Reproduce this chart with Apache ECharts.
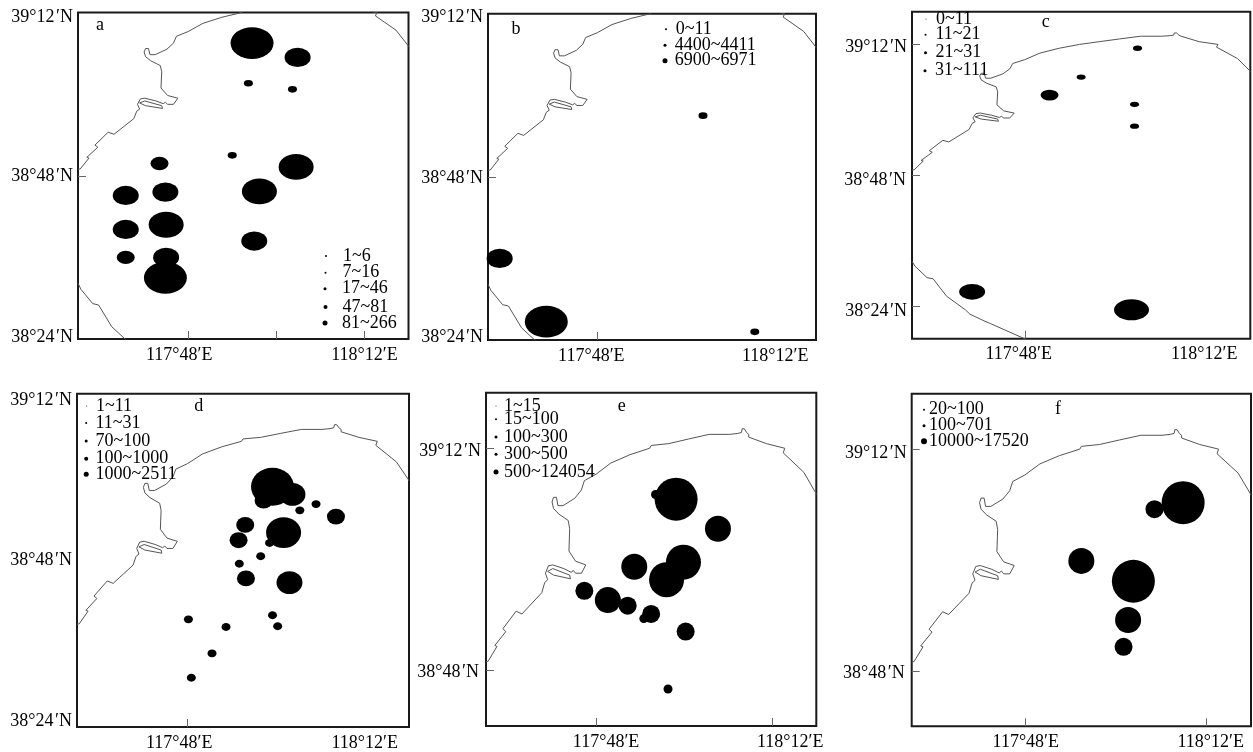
<!DOCTYPE html>
<html><head><meta charset="utf-8">
<style>html,body{margin:0;padding:0;background:#fff}#c{width:1253px;height:752px}</style>
<script src="https://cdn.jsdelivr.net/npm/echarts@6/dist/echarts.min.js"></script>
</head><body><div id="c"></div>
<script>
// Values are minutes east of 117°00' and minutes north of 38°00'.
const lonTicks = [48, 72];
const lonTickLabels = ['117°48′E', '118°12′E'];
const latTicks = [24, 48, 72];
const latTickLabels = ['38°24\u200a′N', '38°48\u200a′N', '39°12\u200a′N'];

const coastMain = [[33,48.95],[33.3,49],[34.5,50.6],[34.2,50.7],[35.7,52.2],[35.3,52.5],[37.1,54.4],[37.9,54.1],[40.6,56.4],[41,57.5],[41.4,57.8],[41.1,58.5],[41.5,59.3],[42.1,59.4],[43.6,59],[43.8,59.2],[44.6,58.6],[44.9,58.8],[45.2,58.5],[46,58.5],[46.6,59.4],[45.2,59.8],[44.3,60.9],[44.4,63.3],[44.2,64.2],[42.9,64.9],[42.2,65.5],[42,66.2],[42.2,66.7],[42.6,66.7],[42.8,65.8],[43.5,65.8],[45.1,66.6],[46,67.5],[46.4,68.5],[48,69.2],[50,70.4],[52.6,71.3],[55.3,72],[55.5,72.3],[57.9,72.5],[60.6,73],[63.4,73.5],[66.2,73.5],[67.3,73.6],[67.5,73.8],[67.8,73.7],[67.9,74.1],[68.2,74.1],[68.5,73.7],[68.8,73.5],[68.8,73.2],[71.2,72.5],[73.7,72],[73.5,71.5],[76.3,69.4],[77.9,67.2],[78,67]];
const coastHarbor = [[41.4,58.7],[42.1,59],[44.4,58.3],[44.5,57.9],[42.2,58.3],[41.4,58.7]];
const coastSouth = [[33,32.2],[33.4,31.3],[35,29.2],[35.8,29],[37.6,25.8],[40.1,23.3],[40.7,22.5],[42.7,21.2],[43.4,20.8],[47.8,18.1],[48,18]];

// Each station: [lon, lat, class index into the panel's class list]
const classesA = ['1~6','7~16','17~46','47~81','81~266'];
const stationsA = [[56.7,67.5,4],[62.9,65.4,2],[56.2,61.6,0],[62.2,60.7,0],[54,51,0],[62.7,49.3,3],[44.1,49.8,1],[57.7,45.7,3],[44.9,45.6,2],[39.5,45.1,2],[45,40.8,3],[39.5,40.1,2],[57,38.4,2],[39.5,36,1],[45,36,2],[44.9,33,4]];
const classesB = ['0~11','4400~4411','6900~6971'];
const stationsB = [[62.5,57,0],[34.6,36,1],[41,26.7,2],[69.6,25.2,0]];
const classesC = ['0~11','11~21','21~31','31~111'];
const stationsC = [[63,71.3,0],[55.5,66,0],[51.3,62.7,1],[62.6,61,0],[62.6,57,0],[41,26.6,2],[62.2,23.3,3]];
const classesD = ['1~11','11~31','70~100','100~1000','1000~2511'];
const stationsD = [[59.5,58.6,4],[62.2,57.5,2],[58.3,56.6,1],[61,52,3],[59.1,50.5,0],[55.8,53.1,1],[54.9,50.9,1],[57.9,48.6,0],[55,47.5,0],[55.9,45.4,1],[61.8,44.8,2],[63.2,55.2,0],[65.4,56.1,0],[68.1,54.3,1],[59.5,40.1,0],[48.1,39.5,0],[53.2,38.4,0],[60.2,38.5,0],[51.3,34.6,0],[48.5,31.1,0]];
const classesE = ['1~15','15~100','100~300','300~500','500~124054'];
const stationsE = [[58.9,66.5,4],[56.1,67,0],[64.6,63.3,2],[59.9,59.7,3],[57.6,57.8,3],[53.2,59.2,2],[46.4,56.6,1],[49.6,55.6,2],[52.3,55,1],[55.5,54.1,1],[54.5,53.6,0],[60.2,52.2,1],[57.8,46,0]];
const classesF = ['20~100','100~701','10000~17520'];
const stationsF = [[69,66.2,2],[65.2,65.5,0],[55.5,59.9,1],[62.4,57.7,2],[61.7,53.5,1],[61.1,50.6,0]];

const FONT = '"Liberation Serif","Times New Roman",serif';
const FS = 18;
const ladder = [9, 18, 26, 35, 43];

const panels = [
 {letter:'a',lp:[100,25],box:[78,12.5,408.5,339],lat:[24,72],classes:classesA,stations:stationsA,steps:[0,1,2,3,4],ratio:.74,
  xT:[48,60,72],yT:[48],yL:[24,48,72],xOff:[-9,0],yOff:{24:[0,-2],48:[0,1],72:[0,4.5]},
  lg:{cx:326,tx:343,rows:[256,272.7,288.7,307,323],icons:[[2,2],[3,2],[5,3],[5,4],[7,5]]}},
 {letter:'b',lp:[516,29],box:[488,13.7,816,340],lat:[24,72],classes:classesB,stations:stationsB,steps:[0,2,4],ratio:.74,
  xT:[48],yT:[48],yL:[24,48,72],xOff:[-6,3],yOff:{24:[0,-3],48:[0,1],72:[0,4]},
  lg:{cx:666,tx:675.7,rows:[29.3,45.3,60.7],icons:[[2,2],[5,3],[7,5]]}},
 {letter:'c',lp:[1045.7,22.7],box:[912,11.7,1250.3,338.7],lat:[18,78],classes:classesC,stations:stationsC,steps:[0,1,2,3],ratio:.6,
  xT:[48],yT:[24,48,72],yL:[24,48,72],xOff:[-6,-1],yOff:{24:[0,5.5],48:[-1,5],72:[0,3]},
  lg:{cx:926,tx:936,rows:[19,34.7,52.7,70.7],icons:[[1,1],[3,2],[4,3],[5,3]]}},
 // Panel d's coastline was drawn by the source on a different latitude span than its tick labels.
 {letter:'d',lp:[198.7,406],box:[77,393.7,409,727],lat:[24,72],coastLat:[36,78],classes:classesD,stations:stationsD,steps:[0,1,2,3,4],ratio:.88,
  xT:[48],yT:[],yL:[24,48,72],xOff:[-8.5,0],yOff:{24:[0,-6],48:[0,0],72:[0,7]},
  lg:{cx:86.7,tx:96,rows:[406,423,441,458.7,474.3],icons:[[1,1],[3,2],[4,3],[5,4],[6,5]]}},
 {letter:'e',lp:[621.7,406],box:[486,392.7,816.3,726],lat:[42,78],classes:classesE,stations:stationsE,steps:[0,1,2,3,4],ratio:1,
  xT:[48,72],yT:[48,72],yL:[48,72],xOff:[10,18],yOff:{48:[-2,2],72:[2,3]},
  lg:{cx:496,tx:504,rows:[406,419.3,437,454.3,472],icons:[[1,1],[2,2],[3,3],[3,3],[5,5]]}},
 {letter:'f',lp:[1058,409],box:[911.7,393.7,1251,726.3],lat:[42,78],classes:classesF,stations:stationsF,steps:[1,2,4],ratio:1,
  xT:[48,72],yT:[48,72],yL:[48,72],xOff:[1,5],yOff:{48:[-2,2],72:[1,4]},
  lg:{cx:924,tx:929,rows:[409.7,425.7,441.3],icons:[[2,2],[3,3],[6,6]]}}
];

const W = 1253, H = 752;
const grid = [], xAxis = [], yAxis = [], series = [], legend = [], title = [];

panels.forEach((p, i) => {
  const [l, t, r, b] = p.box;
  grid.push({show:true,left:l,top:t,width:r-l,height:b-t,borderColor:'#1a1a1a',borderWidth:2,backgroundColor:'#fff'});
  title.push({text:p.letter,left:p.lp[0],top:p.lp[1]-9,textAlign:'center',padding:0,textStyle:{fontFamily:FONT,fontSize:FS,fontWeight:'normal',color:'#000',lineHeight:18}});

  const xRich = {}, yRich = {};
  lonTicks.forEach((v, k) => {
    const d = p.xOff[k];
    xRich['k'+v] = {fontFamily:FONT,fontSize:FS,color:'#000',padding:[0,d<0?-2*d:0,0,d>0?2*d:0]};
  });
  p.yL.forEach(v => {
    const [dx, dy] = p.yOff[v];
    yRich['k'+v] = {fontFamily:FONT,fontSize:FS,color:'#000',padding:[dy>0?2*dy:0,dx<0?-dx:0,dy<0?-2*dy:0,0]};
  });
  xAxis.push({gridIndex:i,type:'value',min:33,max:78,splitLine:{show:false},axisLine:{show:false},
    axisTick:{show:p.xT.length>0,inside:true,length:8,customValues:p.xT,lineStyle:{color:'#666',width:1}},
    axisLabel:{margin:7,customValues:lonTicks,formatter:v=>'{k'+v+'|'+lonTickLabels[lonTicks.indexOf(v)]+'}',rich:xRich}});
  yAxis.push({gridIndex:i,type:'value',min:p.lat[0],max:p.lat[1],splitLine:{show:false},axisLine:{show:false},
    axisTick:{show:p.yT.length>0,inside:true,length:8,customValues:p.yT,lineStyle:{color:'#666',width:1}},
    axisLabel:{margin:5,customValues:p.yL,formatter:v=>'{k'+v+'|'+latTickLabels[latTicks.indexOf(v)]+'}',rich:yRich}});
  p.yIndex = yAxis.length - 1;
  let coastIndex = p.yIndex;
  if (p.coastLat) {
    yAxis.push({gridIndex:i,type:'value',show:false,min:p.coastLat[0],max:p.coastLat[1],splitLine:{show:false}});
    coastIndex = yAxis.length - 1;
  }

  [coastMain, coastHarbor, coastSouth].forEach(c => series.push({type:'line',xAxisIndex:i,yAxisIndex:coastIndex,data:c,showSymbol:false,silent:true,clip:true,lineStyle:{color:'#555',width:1},z:1}));

  p.classes.forEach((name, k) => {
    const d = ladder[p.steps[k]];
    series.push({type:'scatter',name,xAxisIndex:i,yAxisIndex:p.yIndex,clip:false,silent:true,z:3,
      symbol:'circle',symbolSize:[d,d*p.ratio],itemStyle:{color:'#000',opacity:1},
      data:p.stations.filter(s=>s[2]===k).map(s=>[s[0],s[1]])});
    const [w, h] = p.lg.icons[k];
    const cy = p.lg.rows[k];
    legend.push({show:true,selectedMode:false,orient:'horizontal',padding:0,left:p.lg.cx-w/2,top:cy-9,itemWidth:w,itemHeight:h,
      data:[{name,icon:'circle',itemStyle:{color:'#000',opacity:1}}],
      textStyle:{fontFamily:FONT,fontSize:FS,lineHeight:18,color:'#000',padding:[0,0,0,p.lg.tx-p.lg.cx-w/2-5]}});
  });
});

const chart = echarts.init(document.getElementById('c'),null,{renderer:'canvas',width:W,height:H});
chart.setOption({animation:false,backgroundColor:'#fff',title,grid,xAxis,yAxis,series,legend,tooltip:{show:false}});
</script></body></html>
